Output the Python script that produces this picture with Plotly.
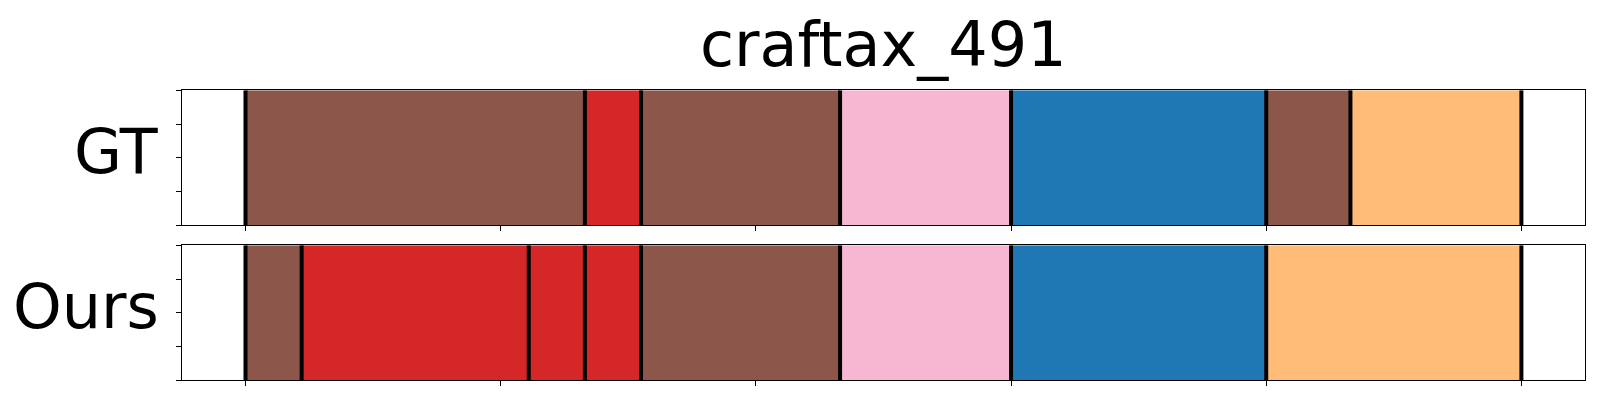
import plotly.graph_objects as go

# ---- data ----
title_text = "craftax_491"
row_labels = ["GT", "Ours"]

gt_starts = [0, 133, 155, 233, 300, 400, 433]
gt_ends = [133, 155, 233, 300, 400, 433, 500]
gt_classes = ["brown", "red", "brown", "pink", "blue", "brown", "orange"]

ours_starts = [0, 22, 111, 133, 155, 233, 300, 400]
ours_ends = [22, 111, 133, 155, 233, 300, 400, 500]
ours_classes = ["brown", "red", "red", "red", "brown", "pink", "blue", "orange"]

x_ticks = [0, 100, 200, 300, 400, 500]
y_ticks = [0, 0.25, 0.5, 0.75, 1.0]

palette = {
    "brown": "#8c564b",
    "red": "#d62728",
    "pink": "#f7b6d2",
    "blue": "#1f77b4",
    "orange": "#ffbb78",
}

# page has an 8px body margin; figure coordinates are offset accordingly
OFF = 8
W, H = 1584, 384
ax_left, ax_right = 181.7 - OFF, 1585.2 - OFF
panels_px = [(90.3 - OFF, 225.3 - OFF), (245.3 - OFF, 380.3 - OFF)]

fig = go.Figure()

segments = [(gt_starts, gt_ends, gt_classes), (ours_starts, ours_ends, ours_classes)]
for i, (starts, ends, classes) in enumerate(segments):
    xa = "x" if i == 0 else "x2"
    ya = "y" if i == 0 else "y2"
    fig.add_trace(go.Bar(
        orientation="h",
        y=[0.5] * len(starts),
        x=[e - s for s, e in zip(starts, ends)],
        base=starts,
        width=1.0,
        marker=dict(color=[palette[c] for c in classes], line=dict(width=0)),
        xaxis=xa, yaxis=ya, showlegend=False, hoverinfo="skip",
    ))
    bx, by = [], []
    for b in list(starts) + [ends[-1]]:
        bx += [b, b, None]
        by += [0, 1, None]
    fig.add_trace(go.Scatter(
        x=bx, y=by, mode="lines",
        line=dict(color="black", width=4),
        xaxis=xa, yaxis=ya, showlegend=False, hoverinfo="skip",
    ))

xdom = [ax_left / W, ax_right / W]
axis_common = dict(showline=True, mirror=True, linecolor="black", linewidth=1.2,
                   ticks="outside", ticklen=5, tickwidth=1.2, tickcolor="black",
                   showticklabels=False, showgrid=False, zeroline=False)

layout = dict(
    width=W, height=H,
    margin=dict(l=0, r=0, t=0, b=0),
    plot_bgcolor="white", paper_bgcolor="white",
    barmode="overlay",
    font=dict(family="DejaVu Sans", color="black"),
)
for i, (top, bot) in enumerate(panels_px):
    sx = "" if i == 0 else "2"
    layout["xaxis" + sx] = dict(domain=xdom, range=[-25, 525], tickvals=x_ticks,
                                anchor="y" + sx, **axis_common)
    layout["yaxis" + sx] = dict(domain=[1 - bot / H, 1 - top / H], range=[0, 1],
                                tickvals=y_ticks, anchor="x" + sx, **axis_common)
fig.update_layout(**layout)

annotations = [dict(text=title_text, x=(ax_left + ax_right) / 2 / W, y=1 - (44 - OFF) / H,
                    xref="paper", yref="paper", xanchor="center", yanchor="middle",
                    showarrow=False, font=dict(size=62, family="DejaVu Sans", color="black"))]
for i, (top, bot) in enumerate(panels_px):
    cy = (top + bot) / 2 - 6.5
    annotations.append(dict(text=row_labels[i], x=(161 - OFF) / W, y=1 - cy / H,
                            xref="paper", yref="paper", xanchor="right", yanchor="middle",
                            showarrow=False, font=dict(size=62, family="DejaVu Sans", color="black")))
fig.update_layout(annotations=annotations)

fig.write_html("out.html")
